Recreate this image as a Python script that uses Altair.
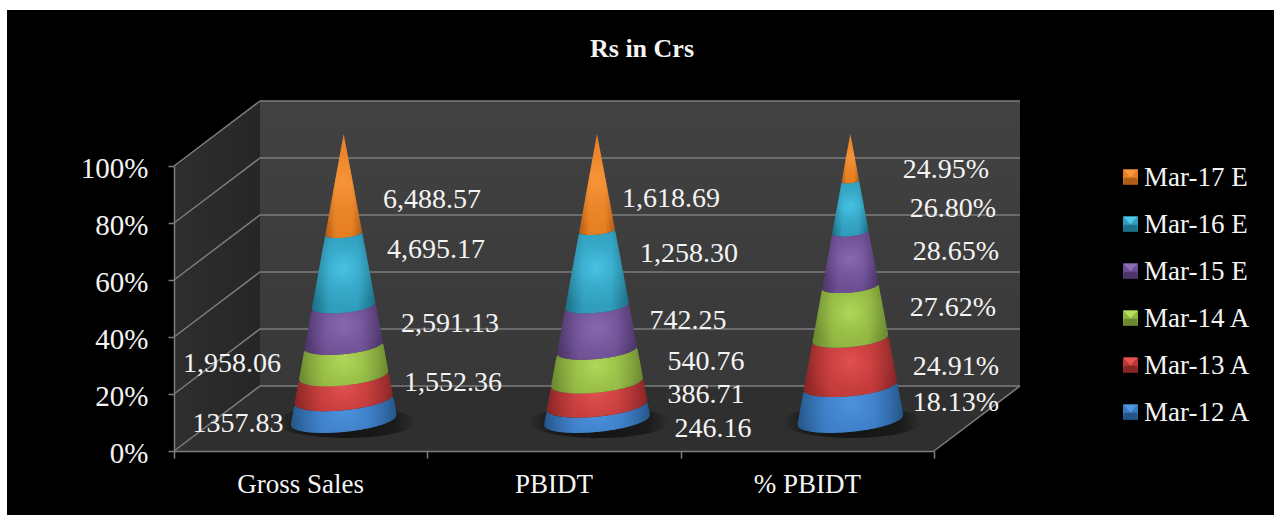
import math
import altair as alt
import pandas as pd

categories = ["Gross Sales", "PBIDT", "% PBIDT"]
periods = ["Mar-12 A", "Mar-13 A", "Mar-14 A", "Mar-15 E", "Mar-16 E", "Mar-17 E"]
gross_sales = [1357.83, 1552.36, 1958.06, 2591.13, 4695.17, 6488.57]
pbidt = [246.16, 386.71, 540.76, 742.25, 1258.30, 1618.69]
pbidt_pct = [18.13, 24.91, 27.62, 28.65, 26.80, 24.95]
gross_labels = ["1357.83", "1,552.36", "1,958.06", "2,591.13", "4,695.17", "6,488.57"]
pbidt_labels = ["246.16", "386.71", "540.76", "742.25", "1,258.30", "1,618.69"]
pct_labels = ["18.13%", "24.91%", "27.62%", "28.65%", "26.80%", "24.95%"]

# Shaded tones per series: highlight (r, g, b), body, edge
palette = {
    "Mar-12 A": ((78, 150, 226), "#3A78C0", "#235687"),
    "Mar-13 A": ((232, 84, 84), "#BC3636", "#882525"),
    "Mar-14 A": ((180, 222, 92), "#8FB340", "#6A8830"),
    "Mar-15 E": ((142, 108, 182), "#6C4E92", "#4C3568"),
    "Mar-16 E": ((76, 200, 234), "#2F9DBB", "#1D7088"),
    "Mar-17 E": ((250, 152, 62), "#E67F22", "#AE5C16"),
}

# Pixel frame of the 3D box
LEFT, RIGHT_FRONT, FLOOR, TOP = 174, 934, 451, 166
DEPTH_X, DEPTH_Y = 86, 65
PX_PER_CAT = (RIGHT_FRONT - LEFT) / 3
PX_PER_PCT = (FLOOR - TOP) / 100
FONT = "Liberation Serif"
TEXT = "#f4f4f4"
GRID = "#7c7c7c"
SIZE = 27


def to_x(px):
    return (px - LEFT) / PX_PER_CAT


def to_y(py):
    return (FLOOR - py) / PX_PER_PCT


X_SCALE = alt.Scale(domain=[0, 3], nice=False, zero=False)
Y_SCALE = alt.Scale(domain=[0, 100], nice=False, zero=False)
X_AXIS = alt.Axis(values=[0, 1, 2, 3], labels=False, tickSize=7, grid=False, zindex=1,
                  domainColor=GRID, tickColor=GRID, domainWidth=1.5, tickWidth=1.5)
Y_AXIS = alt.Axis(values=[0, 20, 40, 60, 80, 100], labelExpr="datum.value + '%'", tickSize=6,
                  grid=False, zindex=1, labelFont=FONT, labelFontSize=29, labelColor=TEXT,
                  labelOffset=2.5, labelPadding=20, domainColor=GRID, tickColor=GRID,
                  domainWidth=1.5, tickWidth=1.5)
ex = alt.X("x:Q", scale=X_SCALE, axis=X_AXIS, title=None)
ey = alt.Y("y:Q", scale=Y_SCALE, axis=Y_AXIS, title=None)
ex2 = alt.X2("x2:Q", title=None)
ey2 = alt.Y2("y2:Q", title=None)

# Black panel behind everything
panel = (
    alt.Chart(pd.DataFrame([{"x": to_x(7), "x2": to_x(1274), "y": to_y(10), "y2": to_y(515)}]))
    .mark_rect(color="black")
    .encode(x=ex, x2=ex2, y=ey, y2=ey2)
)

# Box walls
back_left, back_right = LEFT + DEPTH_X, RIGHT_FRONT + DEPTH_X
back_floor, back_top = FLOOR - DEPTH_Y, TOP - DEPTH_Y

back_wall = (
    alt.Chart(pd.DataFrame([{"x": to_x(back_left), "x2": to_x(back_right), "y": to_y(back_top), "y2": to_y(back_floor)}]))
    .mark_rect(color=alt.LinearGradient(gradient="linear", x1=0, y1=0, x2=0, y2=1,
                                        stops=[alt.GradientStop(color="#424242", offset=0),
                                               alt.GradientStop(color="#383838", offset=1)]))
    .encode(x=ex, x2=ex2, y=ey, y2=ey2)
)
left_wall = (
    alt.Chart(pd.DataFrame([
        {"x": to_x(LEFT), "y": to_y(FLOOR), "y2": to_y(TOP)},
        {"x": to_x(back_left), "y": to_y(back_floor), "y2": to_y(back_top)},
    ]))
    .mark_area(orient="vertical",
               color=alt.LinearGradient(gradient="linear", x1=0, y1=0, x2=1, y2=0,
                                        stops=[alt.GradientStop(color="#2e2e2e", offset=0),
                                               alt.GradientStop(color="#262626", offset=1)]))
    .encode(x=ex, y=ey, y2=ey2)
)
floor = (
    alt.Chart(pd.DataFrame([
        {"x": to_x(LEFT), "y": to_y(FLOOR), "y2": to_y(FLOOR)},
        {"x": to_x(back_left), "y": to_y(FLOOR), "y2": to_y(back_floor)},
        {"x": to_x(RIGHT_FRONT), "y": to_y(FLOOR), "y2": to_y(back_floor)},
        {"x": to_x(back_right), "y": to_y(back_floor), "y2": to_y(back_floor)},
    ]))
    .mark_area(orient="vertical", color="#2f2f2f")
    .encode(x=ex, y=ey, y2=ey2)
)

# Gridlines run along the left wall and across the back wall
grid_rows = []
for pct in [0, 20, 40, 60, 80, 100]:
    front_y = FLOOR - pct * PX_PER_PCT
    for step, (px, py) in enumerate([(LEFT, front_y), (back_left, front_y - DEPTH_Y), (back_right, front_y - DEPTH_Y)]):
        grid_rows.append({"x": to_x(px), "y": to_y(py), "line": f"g{pct}", "step": step})
for step, (px, py) in enumerate([(RIGHT_FRONT, FLOOR), (back_right, back_floor)]):
    grid_rows.append({"x": to_x(px), "y": to_y(py), "line": "edge", "step": step})
grid = (
    alt.Chart(pd.DataFrame(grid_rows))
    .mark_line(color=GRID, strokeWidth=1.5)
    .encode(x=ex, y=ey, detail="line:N", order="step:Q")
)

# Cone geometry
CONE_RADIUS, CONE_HEIGHT = 53, 286
CONE_BASE = FLOOR - 31
CONE_SHIFT = DEPTH_X / 2
ARC = 0.226
TILT = -0.094
SAMPLES = 72


def cone_center(i):
    return LEFT + (i + 0.5) * PX_PER_CAT + CONE_SHIFT


def segment_rows(cx, low, high, name):
    r_low = CONE_RADIUS * (1 - low)
    r_high = CONE_RADIUS * (1 - high)
    us = [-r_low + 2 * r_low * k / SAMPLES for k in range(SAMPLES + 1)]
    rows = []
    for u in us:
        bottom = CONE_BASE - CONE_HEIGHT * low + TILT * u + ARC * math.sqrt(max(r_low ** 2 - u ** 2, 0))
        if abs(u) <= r_high:
            top = CONE_BASE - CONE_HEIGHT * high + TILT * u + ARC * math.sqrt(max(r_high ** 2 - u ** 2, 0))
        else:
            level = 1 - abs(u) / CONE_RADIUS
            top = CONE_BASE - CONE_HEIGHT * level + TILT * u
        rows.append({"x": to_x(cx + u), "y": to_y(bottom), "y2": to_y(top), "cone": name})
    return rows


series_by_cone = [gross_sales, pbidt, pbidt_pct]

# Soft contact shadow under each cone
shadow_rows = []
for i, name in enumerate(categories):
    cx = cone_center(i) + 2
    for k in range(SAMPLES + 1):
        u = -70 + 140 * k / SAMPLES
        half = 16 * math.sqrt(max(1 - (u / 70) ** 2, 0))
        shadow_rows.append({"x": to_x(cx + u), "y": to_y(FLOOR - 29 + half), "y2": to_y(FLOOR - 29 - half), "cone": name})
shadows = (
    alt.Chart(pd.DataFrame(shadow_rows))
    .mark_area(orient="vertical",
               color=alt.RadialGradient(gradient="radial", x1=0.5, y1=0.5, r1=0, x2=0.5, y2=0.5, r2=0.5,
                                        stops=[alt.GradientStop(color="rgba(0,0,0,0.6)", offset=0),
                                               alt.GradientStop(color="rgba(0,0,0,0.42)", offset=0.7),
                                               alt.GradientStop(color="rgba(0,0,0,0)", offset=1)]))
    .encode(x=ex, y=ey, y2=ey2, detail="cone:N")
)

# Each band: a horizontal shade for the round body, then a soft highlight on top
segment_layers = []
for s, period in enumerate(periods):
    rows = []
    for i, name in enumerate(categories):
        values = series_by_cone[i]
        total = sum(values)
        low = sum(values[:s]) / total
        high = sum(values[:s + 1]) / total
        rows += segment_rows(cone_center(i), low, high, name)
    light, body, edge = palette[period]
    r, g, b = light
    frame = pd.DataFrame(rows)
    segment_layers.append(
        alt.Chart(frame)
        .mark_area(orient="vertical",
                   color=alt.LinearGradient(gradient="linear", x1=0, y1=0, x2=1, y2=0,
                                            stops=[alt.GradientStop(color=edge, offset=0),
                                                   alt.GradientStop(color=body, offset=0.28),
                                                   alt.GradientStop(color=body, offset=0.72),
                                                   alt.GradientStop(color=edge, offset=1)]))
        .encode(x=ex, y=ey, y2=ey2, detail="cone:N")
    )
    segment_layers.append(
        alt.Chart(frame)
        .mark_area(orient="vertical",
                   color=alt.RadialGradient(gradient="radial", x1=0.5, y1=0.45, r1=0, x2=0.5, y2=0.45, r2=0.5,
                                            stops=[alt.GradientStop(color=f"rgba({r},{g},{b},0.85)", offset=0),
                                                   alt.GradientStop(color=f"rgba({r},{g},{b},0.3)", offset=0.5),
                                                   alt.GradientStop(color=f"rgba({r},{g},{b},0)", offset=1)]))
        .encode(x=ex, y=ey, y2=ey2, detail="cone:N")
    )

# Hand-placed value labels
label_spots = [
    [(238, 422), (453, 381), (232, 362), (450, 322), (436, 248), (432, 198)],
    [(713, 427), (706, 393), (706, 360), (688, 319), (689, 252), (671, 197)],
    [(956, 401), (956, 365), (953, 306), (956, 250), (953, 207), (946, 168)],
]
label_text = [gross_labels, pbidt_labels, pct_labels]
label_rows = []
for spots, texts in zip(label_spots, label_text):
    for (px, py), text in zip(spots, texts):
        label_rows.append({"x": to_x(px), "y": to_y(py + 2), "label": text})
value_labels = (
    alt.Chart(pd.DataFrame(label_rows))
    .mark_text(font=FONT, fontSize=28, color=TEXT, baseline="middle", align="center")
    .encode(x=ex, y=ey, text="label:N")
)

category_labels = (
    alt.Chart(pd.DataFrame([{"x": i + 0.5, "y": to_y(485), "label": c} for i, c in enumerate(categories)]))
    .mark_text(font=FONT, fontSize=SIZE, color=TEXT, baseline="middle", align="center")
    .encode(x=ex, y=ey, text="label:N")
)

# Bevelled legend, newest period on top
legend_rows = []
for k, period in enumerate(reversed(periods)):
    light, body, edge = palette[period]
    legend_rows.append({
        "x": to_x(1130.5), "y": to_y(177 + 47 * k), "ty": to_y(178 + 47 * k), "tx": to_x(1144), "label": period,
        "light": "#%02x%02x%02x" % light, "body": body, "edge": edge,
    })
legend_df = pd.DataFrame(legend_rows)
legend_layers = []
for field, shape in [
    ("body", "M-1,-1L1,-1L1,1L-1,1Z"),
    ("edge", "M-1,1L1,1L0.9,0.1L-0.9,0.1Z"),
    ("light", "M-0.95,-1L0.95,-1L0,0.05Z"),
]:
    legend_layers.append(
        alt.Chart(legend_df)
        .mark_point(shape=shape, filled=True, opacity=1, size=225, strokeWidth=0)
        .encode(x=ex, y=ey, fill=alt.Fill(f"{field}:N", scale=None))
    )
legend_text = (
    alt.Chart(legend_df)
    .mark_text(font=FONT, fontSize=SIZE, color=TEXT, baseline="middle", align="left")
    .encode(x=alt.X("tx:Q", scale=X_SCALE, axis=X_AXIS, title=None),
            y=alt.Y("ty:Q", scale=Y_SCALE, axis=Y_AXIS, title=None), text="label:N")
)

chart = (
    alt.layer(panel, back_wall, left_wall, floor, grid, shadows, *segment_layers,
              value_labels, category_labels, *legend_layers, legend_text)
    .properties(
        width=RIGHT_FRONT - LEFT,
        height=FLOOR - TOP,
        title=alt.TitleParams("Rs in Crs", font=FONT, fontSize=26, fontWeight="bold", color=TEXT,
                              anchor="middle", dx=88, offset=-78, baseline="bottom"),
        padding={"left": LEFT, "top": TOP, "right": 1274 - RIGHT_FRONT, "bottom": 515 - FLOOR},
        autosize=alt.AutoSizeParams(type="none"),
        background="white",
    )
    .configure_view(stroke=None)
)

chart.save("out.html", embed_options={"renderer": "svg", "actions": False})
